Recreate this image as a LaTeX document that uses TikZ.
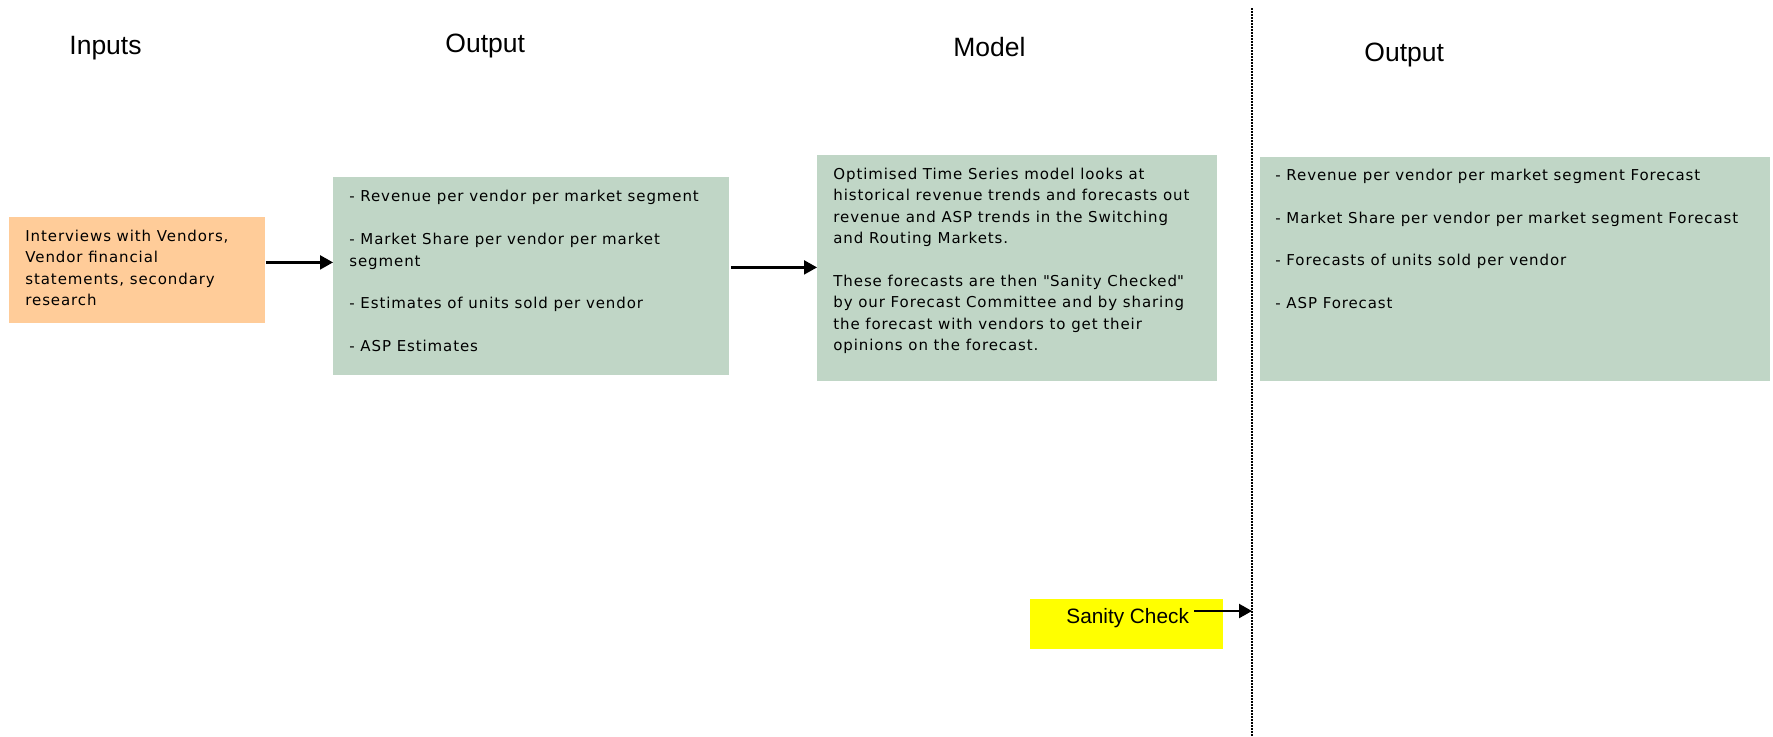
\documentclass[tikz,border=0pt]{standalone}
\usepackage{fontspec}
\setmainfont{DejaVu Sans}
\newfontfamily\boxfont[LetterSpace=6]{DejaVu Sans}
\newfontfamily\arialfont{Liberation Sans}
\usetikzlibrary{arrows.meta, positioning, calc}
\definecolor{fsorange}{HTML}{FFCC99}
\definecolor{fsgreen}{HTML}{C0D6C6}
\definecolor{fsyellow}{HTML}{FFFF00}
\tikzset{
  obox/.style={fill=fsorange, draw=none, anchor=north west, inner sep=0pt},
  gbox/.style={fill=fsgreen, draw=none, anchor=north west, inner sep=0pt},
  ybox/.style={fill=fsyellow, draw=none, anchor=north west, inner sep=0pt},
  btext/.style={anchor=north west, align=left, inner sep=0pt,
                font=\boxfont\fontsize{7.5}{10.7}\selectfont},
  htext/.style={anchor=base west, inner sep=0pt,
                font=\arialfont\fontsize{13.25}{15}\selectfont},
  stext/.style={anchor=base west, inner sep=0pt,
                font=\arialfont\fontsize{10.4}{12}\selectfont},
  arr/.style={-{Triangle[length=6.5pt,width=7pt]}, line width=1.1pt, black},
  divline/.style={line width=1.4pt, dash pattern=on 1pt off 0.5pt, black},
}

\begin{document}
\begin{tikzpicture}[x=0.5pt, y=-0.5pt]
  \useasboundingbox (0,0) rectangle (1773,736);

  % Column headings
  \node[htext] (h0) at (69,54)   {Inputs};
  \node[htext] (h1) at (445,52)  {Output};
  \node[htext] (h2) at (953,56)  {Model};
  \node[htext] (h3) at (1364,61) {Output};

  % Box 0: Inputs
  \node[obox, minimum width=128pt, minimum height=53pt] (b0) at (9,217) {};
  \node[btext] (t0) at ($(b0.north west)+(16,12.5)$)
    {Interviews with Vendors,\\Vendor financial\\statements, secondary\\research};

  % Box 1: Output (estimates)
  \node[gbox, minimum width=198pt, minimum height=99pt] (b1) at (333,177) {};
  \node[btext] (t1) at ($(b1.north west)+(16,13)$)
    {- Revenue per vendor per market segment\\[10.7pt]
     - Market Share per vendor per market\\segment\\[10.7pt]
     - Estimates of units sold per vendor\\[10.7pt]
     - ASP Estimates};

  % Box 2: Model
  \node[gbox, minimum width=200pt, minimum height=113pt] (b2) at (817,155) {};
  \node[btext] (t2) at ($(b2.north west)+(16,12.5)$)
    {Optimised Time Series model looks at\\
     historical revenue trends and forecasts out\\
     revenue and ASP trends in the Switching\\
     and Routing Markets.\\[10.7pt]
     These forecasts are then \textquotedbl Sanity Checked\textquotedbl\\
     by our Forecast Committee and by sharing\\
     the forecast with vendors to get their\\
     opinions on the forecast.};

  % Box 3: Output (forecasts)
  \node[gbox, minimum width=255pt, minimum height=112pt] (b3) at (1260,157) {};
  \node[btext] (t3) at ($(b3.north west)+(15,11.5)$)
    {- Revenue per vendor per market segment Forecast\\[10.7pt]
     - Market Share per vendor per market segment Forecast\\[10.7pt]
     - Forecasts of units sold per vendor\\[10.7pt]
     - ASP Forecast};

  % Sanity check box
  \node[ybox, minimum width=96.5pt, minimum height=25pt] (b4) at (1030,599) {};
  \node[stext] (t4) at (1066,623) {Sanity Check};

  % Divider
  \coordinate (divtop) at (1252,8);
  \coordinate (divbot) at (1252,736);
  \draw[divline] (divtop) -- (divbot);

  % Arrows
  \coordinate (a0) at ($(b0.east)+(0,-8)$);
  \coordinate (a1) at ($(b1.east)+(1,-9)$);
  \coordinate (a2) at ($(t4.base east)+(5,-12)$);
  \draw[arr] (a0) -- (a0 -| b1.west);
  \draw[arr] (a1) -- (a1 -| b2.west);
  \draw[arr] (a2) -- (a2 -| divtop);

\end{tikzpicture}
\end{document}
